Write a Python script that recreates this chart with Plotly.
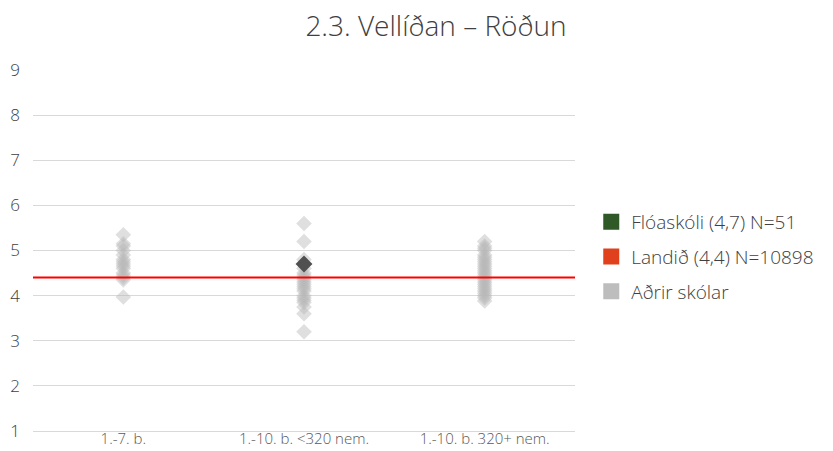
import plotly.graph_objects as go

# Categories on the x axis
categories = ["1.-7. b.", "1.-10. b. <320 nem.", "1.-10. b. 320+ nem."]

# Mean scores of other schools, per category
others_1_7 = [5.35, 5.15, 5.1, 5.0, 4.9, 4.8, 4.75, 4.7, 4.65, 4.6, 4.5, 4.45, 4.4, 4.35, 3.97]
others_small = [5.6, 5.2, 4.8, 4.7, 4.6, 4.5, 4.45, 4.4, 4.35, 4.3, 4.25, 4.2, 4.15,
                4.1, 4.0, 3.95, 3.9, 3.85, 3.75, 3.6, 3.2]
others_large = [5.2, 5.1, 5.05, 5.0, 4.9, 4.85, 4.8, 4.75, 4.7, 4.65, 4.6, 4.55, 4.5,
                4.45, 4.4, 4.35, 4.3, 4.25, 4.2, 4.15, 4.1, 4.05, 4.0, 3.95, 3.88]

# School and national values
school_name = "Flóaskóli"
school_category = "1.-10. b. <320 nem."
school_value = 4.7
school_n = 51
national_value = 4.4
national_n = 10898

y_ticks = [1, 2, 3, 4, 5, 6, 7, 8, 9]

FONT = "Open Sans"


def fmt(v):
    return f"{v:.1f}".replace(".", ",")


fig = go.Figure()

others_x = ([categories[0]] * len(others_1_7) + [categories[1]] * len(others_small)
            + [categories[2]] * len(others_large))
others_y = others_1_7 + others_small + others_large

fig.add_trace(go.Scatter(
    x=others_x, y=others_y, mode="markers", showlegend=False, hoverinfo="y",
    marker=dict(symbol="diamond", size=12, color="rgba(185,185,185,0.45)", line=dict(width=0)),
))

fig.add_trace(go.Scatter(
    x=[school_category], y=[school_value], mode="markers", showlegend=False,
    marker=dict(symbol="diamond", size=13, color="#505050", line=dict(width=0)),
))

# National average line
fig.add_shape(type="line", xref="paper", x0=0, x1=1, yref="y", y0=national_value, y1=national_value,
              line=dict(color="#ff0000", width=2), layer="above")

# Legend entries
legend_items = [
    (f"{school_name} ({fmt(school_value)}) N={school_n}", "#2f5a28"),
    (f"Landið ({fmt(national_value)}) N={national_n}", "#e0401c"),
    ("Aðrir skólar", "#bdbdbd"),
]
for i, (name, color) in enumerate(legend_items):
    fig.add_trace(go.Scatter(
        x=[None], y=[None], mode="markers", name=name, legendgroup=f"g{i}",
        marker=dict(symbol="square", size=16, color=color),
    ))

TOP, BOTTOM = 70, 20
plot_h = 451 - TOP - BOTTOM

fig.update_layout(
    width=833, height=451,
    margin=dict(l=33, r=258, t=TOP, b=BOTTOM),
    paper_bgcolor="white", plot_bgcolor="white",
    font=dict(family=FONT, color="#404040", weight=300),
    title=dict(text="2.3. Vellíðan – Röðun", x=436 / 833, xanchor="center", y=1 - 26 / 451,
               yanchor="middle", font=dict(family=FONT, size=28, color="#404040", weight=300)),
    showlegend=True,
    legend=dict(x=1.03, y=(451 - BOTTOM - 257) / plot_h, xanchor="left", yanchor="middle",
                traceorder="grouped", tracegroupgap=7,
                font=dict(family=FONT, size=19, color="#404040", weight=300), itemwidth=30),
    xaxis=dict(type="category", categoryarray=categories, showgrid=False, zeroline=False,
               showline=True, linecolor="#d9d9d9", linewidth=1, ticks="", automargin=False,
               ticklabelstandoff=-6,
               tickfont=dict(family=FONT, size=15, color="#595959", weight=300),
               range=[-0.5, 2.5]),
    yaxis=dict(range=[1, 9], tickvals=y_ticks, showgrid=True, gridcolor="#d9d9d9", gridwidth=1,
               zeroline=False, showline=False, ticks="", ticklabelstandoff=12, automargin=False,
               tickfont=dict(family=FONT, size=17, color="#404040", weight=300)),
)

fig.write_html("out.html")
